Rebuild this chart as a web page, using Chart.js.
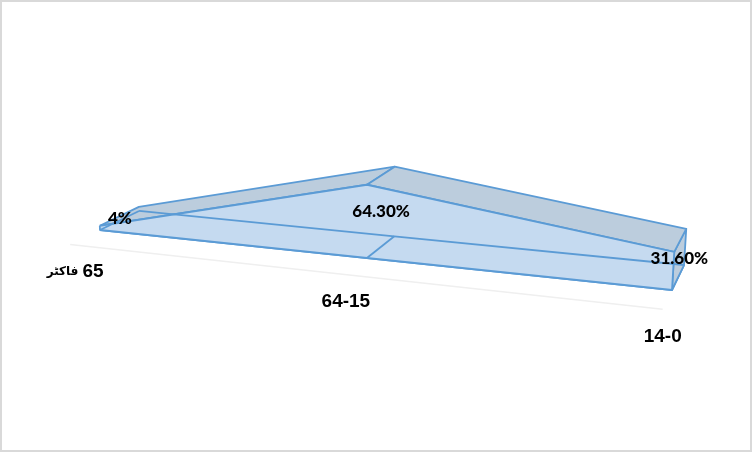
<!DOCTYPE html>
<html>
<head>
<meta charset="utf-8">
<script src="https://cdn.jsdelivr.net/npm/chart.js@4"></script>
<style>
  html, body { margin: 0; padding: 0; background: #fff; }
  canvas { display: block; outline: 2px solid #d9d9d9; outline-offset: -2px; }
</style>
</head>
<body>
<canvas id="myChart" width="752" height="452"></canvas>
<script>
const categories = ["65 فاکٹر", "64-15", "14-0"];
const shares = [4, 64.3, 31.6];
const shareLabels = ["4%", "64.30%", "31.60%"];

const lineColor = "#5b9bd5";
const frontColor = "#c5daf0";
const roofColor = "#bccddd";

// Excel style 3D area: category, value and depth go through one perspective projection
function project(catIndex, value, depth) {
  const u = catIndex / (categories.length - 1);
  const w = 1 - 0.125 * u + 0.0523 * depth - 0.0002 * value;
  return {
    x: (100 + 488 * u + 46.3 * depth - 0.0725 * value) / w,
    y: (230 + 23.75 * u - 8 * depth - 1.105 * value) / w,
  };
}

function polygon(points, fillColor) {
  return {
    data: points.concat([points[0]]),
    showLine: true,
    fill: "shape",
    backgroundColor: fillColor,
    borderColor: lineColor,
    borderWidth: 1.8,
    borderJoinStyle: "round",
    pointRadius: 0,
    tension: 0,
  };
}

function edge(points, color, width) {
  return {
    data: points,
    showLine: true,
    fill: false,
    borderColor: color,
    borderWidth: width,
    pointRadius: 0,
  };
}

const last = categories.length - 1;
const front = categories.map((c, i) => project(i, shares[i], 0));
const back = categories.map((c, i) => project(i, shares[i], 1));
const frontBase = categories.map((c, i) => project(i, 0, 0));
const backBase = categories.map((c, i) => project(i, 0, 1));

// listed back to front, reversed below because Chart.js paints dataset 0 last
const datasets = [];

// floor axis line
datasets.push(edge([project(0, 0, -0.7), project(last, 0, -0.7)], "#efefef", 1.5));

// floor
datasets.push(polygon(frontBase.concat(backBase.slice().reverse()), frontColor));

// right end
datasets.push(polygon([frontBase[last], front[last], back[last], backBase[last]], roofColor));

// roof, one piece per category step
for (let i = 0; i < last; i++) {
  datasets.push(polygon([front[i], front[i + 1], back[i + 1], back[i]], roofColor));
}

// front face
datasets.push(polygon(front.concat(frontBase.slice().reverse()), frontColor));

// back base line and base edges stay visible through the front
datasets.push(edge(backBase, lineColor, 1.8));
categories.forEach((c, i) => {
  if (i < last) datasets.push(edge([frontBase[i], backBase[i]], lineColor, 1.8));
});

datasets.reverse();

// the category label mixes Latin digits and a smaller Arabic word, right to left
function drawTickLabel(ctx, text, x, y) {
  const words = text.split(" ");
  const fontFor = (word) =>
    /[\u0600-\u06ff]/.test(word)
      ? "bold 12px 'DejaVu Sans'"
      : "bold 19px 'Liberation Sans'";
  const gap = 4;
  let total = gap * (words.length - 1);
  words.forEach((word) => {
    ctx.font = fontFor(word);
    total += ctx.measureText(word).width;
  });
  ctx.textAlign = "right";
  let right = x + total / 2;
  if (words.length > 1) right += 5;
  words.forEach((word) => {
    ctx.font = fontFor(word);
    ctx.fillText(word, right, y);
    right -= ctx.measureText(word).width + gap;
  });
}

const textLabels = {
  id: "textLabels",
  afterDatasetsDraw(chart) {
    const { ctx, scales } = chart;
    ctx.save();
    ctx.textBaseline = "middle";
    ctx.fillStyle = "#000";

    ctx.textAlign = "center";
    ctx.font = "900 17px Lato";
    shareLabels.forEach((text, i) => {
      const p = project(i, shares[i] / 2, 0.5);
      ctx.fillText(text, scales.x.getPixelForValue(p.x), scales.y.getPixelForValue(p.y));
    });

    categories.forEach((text, i) => {
      const p = project(i, 0, -0.7);
      drawTickLabel(ctx, text, scales.x.getPixelForValue(p.x), scales.y.getPixelForValue(p.y) + 27);
    });
    ctx.restore();
  },
};

new Chart(document.getElementById("myChart"), {
  type: "scatter",
  data: { datasets: datasets },
  options: {
    responsive: false,
    animation: false,
    layout: { padding: 0 },
    plugins: { legend: { display: false }, tooltip: { enabled: false } },
    scales: {
      x: { type: "linear", min: 0, max: 752, display: false },
      y: { type: "linear", min: 0, max: 452, reverse: true, display: false },
    },
  },
  plugins: [textLabels],
});
</script>
</body>
</html>
